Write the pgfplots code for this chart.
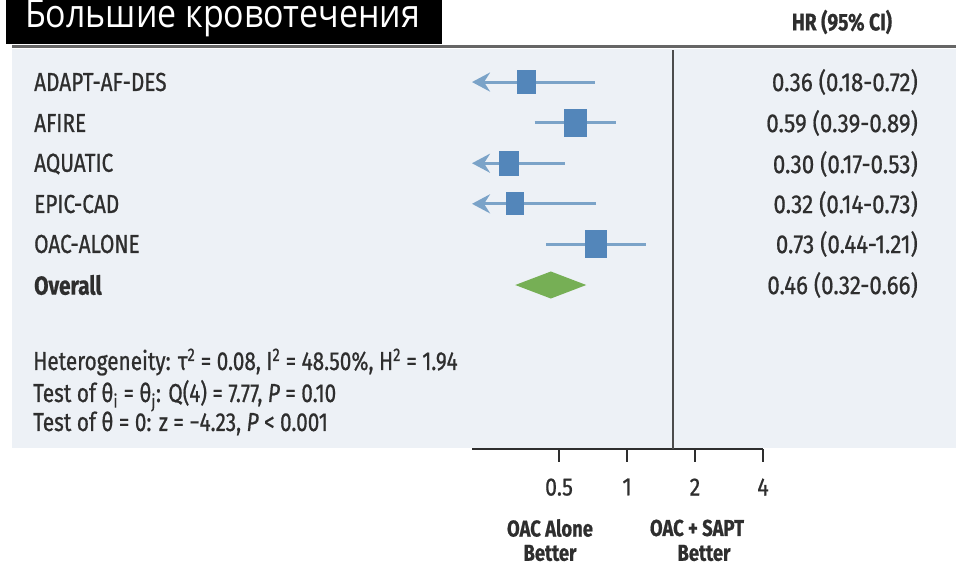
\documentclass[border=0pt]{standalone}
\usepackage{fontspec}
\usepackage{pgfplots}
\pgfplotsset{compat=1.18}
\usetikzlibrary{arrows.meta}
\setmainfont{Fira Sans}[FakeStretch=0.8, FakeBold=0.7]
\newfontfamily\numfont{Fira Sans}[FakeStretch=0.86, FakeBold=0.7]
\newfontfamily\titlefont{Open Sans}[FakeStretch=0.87]
\definecolor{panel}{HTML}{EDF1F6}
\definecolor{boxc}{HTML}{5386BA}
\definecolor{linec}{HTML}{7BA3C8}
\definecolor{diam}{HTML}{76AF55}
\definecolor{txt}{HTML}{2E2E2E}
\begin{document}
\begin{tikzpicture}
\path[use as bounding box] (0pt,0pt) rectangle (956pt,567pt);
\fill[panel] (12pt,119pt) rectangle (956pt,518pt);
\fill[black!60] (12pt,519pt) rectangle (956pt,522pt);
\fill[black] (6pt,523pt) rectangle (442pt,567pt);
\node[anchor=base west, text=white, font=\titlefont\fontsize{39}{39}\selectfont, inner sep=0pt] at (25pt,539pt) {Большие кровотечения};
\begin{axis}[
  at={(472pt,118pt)}, anchor=south west,
  scale only axis, width=291pt, height=399pt,
  xmode=log, xmin=0.2059, xmax=4,
  ymin=-3.04, ymax=6.79,
  axis x line*=bottom, axis y line=none,
  x axis line style={-, draw=txt, line width=1.4pt},
  xtick={0.5,1,2,4}, xticklabels={0.5,1,2,4},
  xminorticks=false,
  tick align=outside, major tick length=13pt,
  tick style={draw=txt, line width=1.3pt},
  xticklabel style={font=\numfont\fontsize{25}{25}\selectfont, text=txt, yshift=-13pt},
  ytick=\empty,
  clip=false,
]
% reference vertical line
\addplot[draw=black!70, line width=2pt] coordinates {(1.6,-3.04) (1.6,6.79)};
% confidence intervals
\addplot[linec, line width=3pt, -{Stealth[length=18pt,width=19pt,inset=6pt]}] coordinates {(0.72,6) (0.2059,6)};
\addplot[linec, line width=3pt] coordinates {(0.39,5) (0.89,5)};
\addplot[linec, line width=3pt, -{Stealth[length=18pt,width=19pt,inset=6pt]}] coordinates {(0.53,4) (0.2059,4)};
\addplot[linec, line width=3pt, -{Stealth[length=18pt,width=19pt,inset=6pt]}] coordinates {(0.73,3) (0.2059,3)};
\addplot[linec, line width=3pt] coordinates {(0.44,2) (1.21,2)};
% point estimates
\addplot[only marks, draw=boxc, fill=boxc, mark=square*, mark size=11.5pt, mark options={draw=boxc, fill=boxc, line width=0pt, xscale=0.78}] coordinates {(0.36,6)};
\addplot[only marks, draw=boxc, fill=boxc, mark=square*, mark size=13.5pt, mark options={draw=boxc, fill=boxc, line width=0pt, xscale=0.8}] coordinates {(0.59,5)};
\addplot[only marks, draw=boxc, fill=boxc, mark=square*, mark size=12pt, mark options={draw=boxc, fill=boxc, line width=0pt, xscale=0.76}] coordinates {(0.30,4)};
\addplot[only marks, draw=boxc, fill=boxc, mark=square*, mark size=11pt, mark options={draw=boxc, fill=boxc, line width=0pt, xscale=0.77}] coordinates {(0.32,3)};
\addplot[only marks, draw=boxc, fill=boxc, mark=square*, mark size=13.5pt, mark options={draw=boxc, fill=boxc, line width=0pt, xscale=0.8}] coordinates {(0.73,2)};
% overall diamond
\addplot[fill=diam, draw=none] coordinates {(0.32,1) (0.46,1.333) (0.66,1) (0.46,0.667) (0.32,1)};
\end{axis}
\begin{scope}[every node/.style={text=txt, font=\fontsize{26}{26}\selectfont, inner sep=0pt}]
\node[anchor=west] at (34pt,485pt) {ADAPT-AF-DES};
\node[anchor=west] at (34pt,444pt) {AFIRE};
\node[anchor=west] at (34pt,403pt) {AQUATIC};
\node[anchor=west] at (34pt,363pt) {EPIC-CAD};
\node[anchor=west] at (34pt,323pt) {OAC-ALONE};
\node[anchor=west, font=\fontsize{26}{26}\selectfont\bfseries] at (34pt,282pt) {Overall};
\begin{scope}[every node/.append style={font=\numfont\fontsize{26}{26}\selectfont}]
\node[anchor=east] at (918pt,485pt) {0.36 (0.18-0.72)};
\node[anchor=east] at (918pt,444pt) {0.59 (0.39-0.89)};
\node[anchor=east] at (918pt,403pt) {0.30 (0.17-0.53)};
\node[anchor=east] at (918pt,363pt) {0.32 (0.14-0.73)};
\node[anchor=east] at (918pt,323pt) {0.73 (0.44-1.21)};
\node[anchor=east] at (918pt,282pt) {0.46 (0.32-0.66)};
\end{scope}
\node[anchor=base west] at (33pt,197pt) {Heterogeneity: τ\textsuperscript{2} = 0.08, I\textsuperscript{2} = 48.50\%, H\textsuperscript{2} = 1.94};
\node[anchor=base west] at (33pt,165pt) {Test of θ\textsubscript{i} = θ\textsubscript{j}: Q(4) = 7.77, \textit{P} = 0.10};
\node[anchor=base west] at (33pt,136pt) {Test of θ = 0: z = −4.23, \textit{P} < 0.001};
\node[font=\fontsize{24}{24}\selectfont\bfseries] at (842pt,545pt) {HR (95\% CI)};
\node[font=\fontsize{23}{23}\selectfont\bfseries] at (550pt,39pt) {OAC Alone};
\node[font=\fontsize{23}{23}\selectfont\bfseries] at (550pt,14pt) {Better};
\node[font=\fontsize{23}{23}\selectfont\bfseries] at (697pt,39pt) {OAC + SAPT};
\node[font=\fontsize{23}{23}\selectfont\bfseries] at (704pt,14pt) {Better};
\end{scope}
\end{tikzpicture}
\end{document}
